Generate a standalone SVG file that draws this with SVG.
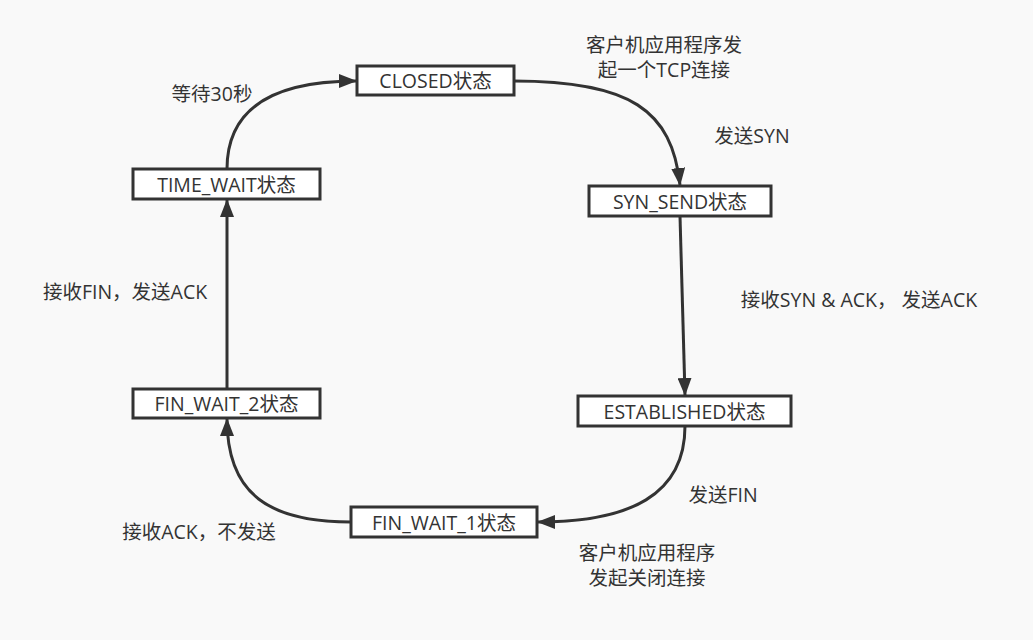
<svg xmlns="http://www.w3.org/2000/svg" width="1033" height="640" viewBox="0 0 1033 640">
<defs>
<marker id="ah" viewBox="0 0 18 14" refX="17" refY="7" markerWidth="18" markerHeight="14" markerUnits="userSpaceOnUse" orient="auto">
<path d="M0,0 L18,7 L0,14 Z" fill="#333"/>
</marker>
<style>
.box{fill:#fff;stroke:#333;stroke-width:3}
.t{font-family:"Open Sans","Noto Sans CJK SC",sans-serif;font-size:19.5px;fill:#333;text-anchor:middle}
.c{fill:none;stroke:#333;stroke-width:3;marker-end:url(#ah)}
</style>
</defs>
<rect width="1033" height="640" fill="#f9f9f9"/>
<g id="connectors">
<path class="c" d="M514,81 C630,81 672,110 680,185"/>
<path class="c" d="M680,216 L685,395"/>
<path class="c" d="M685,426 C685,495 630,522 538,522"/>
<path class="c" d="M351,522 C270,522 227,495 227,419"/>
<path class="c" d="M227,389 L227,200"/>
<path class="c" d="M227,169 C227,110 270,81 356,81"/>
</g>
<g id="closed"><rect class="box" x="357" y="66" width="157" height="29"/><text class="t" x="435.5" y="87.5">CLOSED状态</text></g>
<g id="syn_send"><rect class="box" x="589" y="186" width="182" height="30"/><text class="t" x="680" y="208.5">SYN_SEND状态</text></g>
<g id="established"><rect class="box" x="578" y="396" width="213" height="30"/><text class="t" x="684.5" y="418.5">ESTABLISHED状态</text></g>
<g id="fin_wait_1"><rect class="box" x="351" y="507" width="186" height="30"/><text class="t" x="444" y="529.5">FIN_WAIT_1状态</text></g>
<g id="fin_wait_2"><rect class="box" x="133" y="389" width="187" height="29"/><text class="t" x="226.5" y="410.5">FIN_WAIT_2状态</text></g>
<g id="time_wait"><rect class="box" x="133" y="169" width="187" height="30"/><text class="t" x="226.5" y="191.5">TIME_WAIT状态</text></g>
<g id="labels">
<text class="t" x="664" y="52">客户机应用程序发</text>
<text class="t" x="664" y="77">起一个TCP连接</text>
<text class="t" x="752" y="143">发送SYN</text>
<text class="t" x="859" y="307">接收SYN &amp; ACK， 发送ACK</text>
<text class="t" x="723" y="502">发送FIN</text>
<text class="t" x="647" y="560">客户机应用程序</text>
<text class="t" x="647" y="585">发起关闭连接</text>
<text class="t" x="199" y="539">接收ACK，不发送</text>
<text class="t" x="125" y="299">接收FIN，发送ACK</text>
<text class="t" x="212" y="101">等待30秒</text>
</g>
</svg>
